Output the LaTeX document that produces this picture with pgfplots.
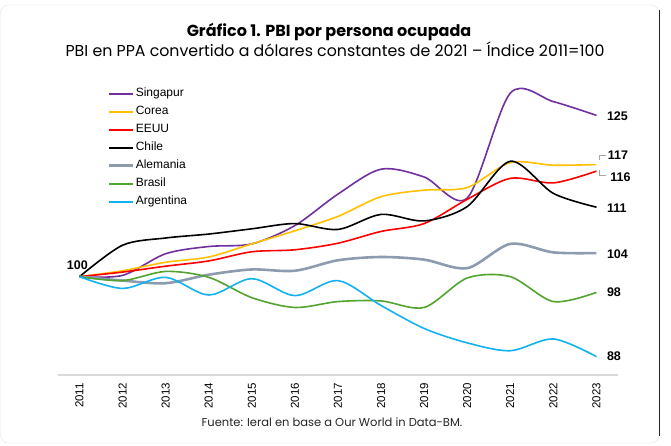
\documentclass[border=0pt]{standalone}
\usepackage{pgfplots}
\pgfplotsset{compat=1.18}
\usepackage{fontspec}
\setmainfont{Liberation Sans}
\newfontfamily\poppins[Ligatures=TeX]{Poppins}
\definecolor{cSing}{HTML}{7030A0}
\definecolor{cCor}{HTML}{FFC000}
\definecolor{cUS}{HTML}{FF0000}
\definecolor{cChi}{HTML}{000000}
\definecolor{cAle}{HTML}{8C9CAE}
\definecolor{cBra}{HTML}{52A32F}
\definecolor{cArg}{HTML}{12B2F0}
\begin{document}
\begin{tikzpicture}[x=1pt,y=1pt]
\useasboundingbox (0,0) rectangle (671,446);
\fill[white] (0,0) rectangle (671,446);
\draw[black!10, fill=white, rounded corners=8pt] (0.5,3) rectangle (659,441);
\draw[black!85, line width=1pt] (659,10) -- (659,436);
\node[font=\poppins\bfseries\fontsize{16}{18}\selectfont, text=black] at (329,414) {Gráfico 1. PBI por persona ocupada};
\node[font=\poppins\fontsize{15.8}{18}\selectfont, text=black] at (335,397) {PBI en PPA convertido a dólares constantes de 2021 – Índice 2011=100};
\node[font=\poppins\fontsize{11.5}{13}\selectfont, text=black!85] at (332,24) {Fuente: Ieral en base a Our World in Data-BM.};
\begin{axis}[
  at={(58pt,71pt)}, anchor=south west,
  scale only axis, width=560pt, height=295pt,
  xmin=2010.5, xmax=2023.5, ymin=85, ymax=130,
  xtick={2011,...,2023}, ytick={85,90,...,130},
  x tick label style={/pgf/number format/1000 sep={}},
  /pgf/number format/assume math mode=true,
  axis x line*=bottom, axis y line=none,
  x axis line style={black!15, line width=1.2pt, -},
  ymajorgrids, grid style={black!18, dotted, line width=0.6pt},
  major tick length=0pt,
  tick label style={font=\fontsize{11.5}{13}\selectfont},
  xticklabel style={rotate=90, anchor=east, inner sep=0pt},
  xticklabel shift=8pt,
  yticklabel shift=11pt,
  yticklabel style={anchor=east, inner sep=0pt},
  clip=false,
  legend cell align=left,
  legend style={at={(axis cs:2011.66,129.0)}, anchor=north west, draw=none, fill=none,
    inner sep=0pt, row sep=4pt, font=\fontsize{12}{14}\selectfont,
    nodes={inner sep=1pt, text height=9pt, text depth=3pt}},
  legend image code/.code={\draw[#1] (0pt,0pt) -- (24pt,0pt);},
  every axis plot/.append style={smooth, tension=0.5, line width=1.6pt},
]
\addplot[cSing] coordinates {(2011,100) (2012,100.2) (2013,103.5) (2014,104.6) (2015,105.0) (2016,107.8) (2017,112.6) (2018,116.4) (2019,115.2) (2020,112.0) (2021,128.0) (2022,126.7) (2023,124.6)};
\addlegendentry{Singapur}
\addplot[cCor] coordinates {(2011,100) (2012,100.9) (2013,102.2) (2014,103.0) (2015,105.0) (2016,107.0) (2017,109.2) (2018,112.2) (2019,113.2) (2020,113.6) (2021,117.4) (2022,117.0) (2023,117.1)};
\addlegendentry{Corea}
\addplot[cUS] coordinates {(2011,100) (2012,100.7) (2013,101.6) (2014,102.4) (2015,103.8) (2016,104.1) (2017,105.1) (2018,106.9) (2019,108.1) (2020,111.8) (2021,115.0) (2022,114.3) (2023,116.1)};
\addlegendentry{EEUU}
\addplot[cChi] coordinates {(2011,100) (2012,104.8) (2013,105.9) (2014,106.5) (2015,107.3) (2016,108.1) (2017,107.2) (2018,109.5) (2019,108.5) (2020,110.7) (2021,117.6) (2022,112.7) (2023,110.6)};
\addlegendentry{Chile}
\addplot[cAle, line width=2.6pt] coordinates {(2011,100) (2012,99.4) (2013,99.0) (2014,100.3) (2015,101.1) (2016,100.9) (2017,102.5) (2018,103.0) (2019,102.6) (2020,101.3) (2021,105.0) (2022,103.7) (2023,103.6)};
\addlegendentry{Alemania}
\addplot[cBra] coordinates {(2011,100) (2012,99.4) (2013,100.8) (2014,99.9) (2015,96.8) (2016,95.3) (2017,96.2) (2018,96.3) (2019,95.3) (2020,99.8) (2021,100.0) (2022,96.2) (2023,97.6)};
\addlegendentry{Brasil}
\addplot[cArg] coordinates {(2011,100) (2012,98.2) (2013,99.9) (2014,97.2) (2015,99.7) (2016,97.1) (2017,99.4) (2018,95.6) (2019,92.1) (2020,89.9) (2021,88.7) (2022,90.5) (2023,87.8)};
\addlegendentry{Argentina}
\begin{scope}[font=\bfseries\fontsize{12.5}{14}\selectfont, inner sep=0pt]
\node[anchor=west] at (axis cs:2023.24,124.5) {125};
\node[anchor=west] at (axis cs:2023.26,118.6) {117};
\node[anchor=west] at (axis cs:2023.32,115.2) {116};
\node[anchor=west] at (axis cs:2023.24,110.5) {111};
\node[anchor=west] at (axis cs:2023.24,103.5) {104};
\node[anchor=west] at (axis cs:2023.24,97.6) {98};
\node[anchor=west] at (axis cs:2023.24,87.8) {88};
\node at (axis cs:2010.95,101.8) {100};
\end{scope}
\end{axis}
\draw[black!35, line width=0.5pt] (606,291) -- (599.5,291) -- (599.5,286);
\draw[black!35, line width=0.5pt] (599.5,276) -- (599.5,270.3) -- (606,270.3);
\end{tikzpicture}
\end{document}
